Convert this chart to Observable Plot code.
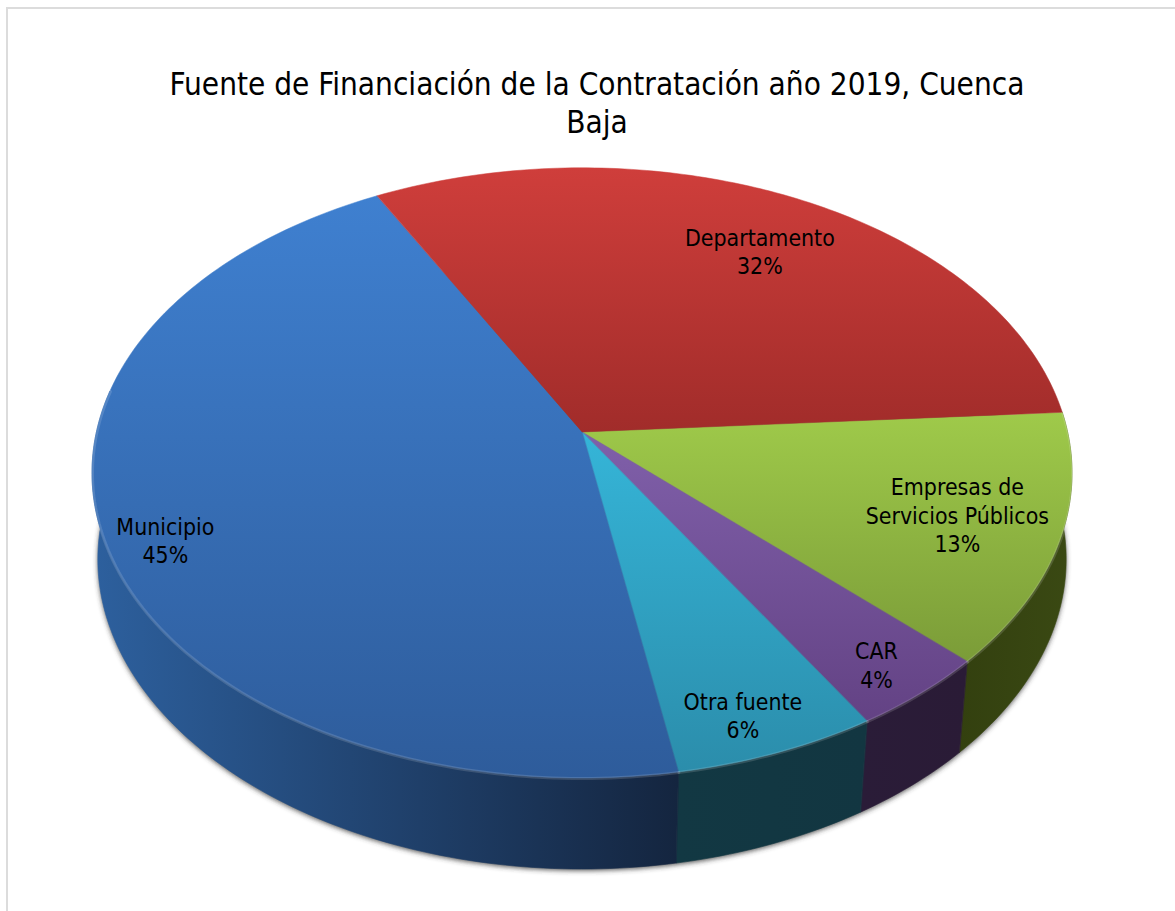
<!DOCTYPE html>
<html lang="es">
<head>
<meta charset="utf-8">
<script src="https://cdn.jsdelivr.net/npm/d3@7"></script>
<script src="https://cdn.jsdelivr.net/npm/@observablehq/plot@0.6"></script>
<style>
  html, body { margin: 0; padding: 0; background: #fff; width: 1175px; height: 911px; overflow: hidden; }
  #frame { position: absolute; left: 6px; top: 7px; width: 1169px; height: 904px; box-sizing: border-box;
           border-left: 2px solid #dcdcdc; border-top: 2px solid #dcdcdc; }
  #title { position: absolute; left: 97px; top: 65px; width: 1000px; text-align: center; color: #000;
           font: 31.25px/38px "DejaVu Sans Condensed", "DejaVu Sans", sans-serif; white-space: nowrap; }
  #chart { position: absolute; left: 0; top: 150px; }
  #chart svg { display: block; background: transparent; }
</style>
</head>
<body>
<div id="frame"></div>
<div id="title">Fuente de Financiación de la Contratación año 2019, Cuenca<br>Baja</div>
<div id="chart"></div>
<script>
// Data, clockwise from the first slice (shares; labels show them rounded)
const categories = ["Empresas de\nServicios Públicos", "CAR", "Otra fuente", "Municipio", "Departamento"];
const shares = [13.28, 4.08, 5.94, 44.94, 31.76];

// Colours
const topLight = ["#9fca4a", "#8060aa", "#35b5d8", "#3f80d0", "#cf3e3b"];
const topDark  = ["#7b9c38", "#634284", "#2b8dab", "#2e5c9b", "#a12c2a"];
const wallLeft  = ["#33400f", "#2a1c38", "#123843", "#2d609e", null];
const wallRight = ["#3a4913", "#2a1b36", "#123641", "#14253f", null];

// Layout of the tilted pie
const firstAngle = 86.2;         // degrees clockwise from the back
const tilt = 0.134;              // perspective strength
const radiusX = 485.6, radiusY = 299.6;
const centerX = 582, centerY = 432 - 150;
const depth = 0.304;
const labelRadius = [0.79, 0.89, 0.887, 0.888, 0.77];
const labelTurn = [-0.6, 0.6, 1.3, -3.6, 2.05];
const frontFrom = 82, frontTo = 278;

const rad = d => d * Math.PI / 180;
function project(angle, r = 1, base = false, drop = 0) {
  const u = r * Math.sin(rad(angle)), v = r * Math.cos(rad(angle));
  const w = 1 + tilt * v;
  const k = base ? 0.99 + 0.015 * v : 1;
  return {x: k * u / w, y: v / w - (base ? depth + drop : 0)};
}
function arc(a0, a1, base = false, drop = 0) {
  const n = Math.max(2, Math.ceil(Math.abs(a1 - a0)));
  return d3.range(n + 1).map(i => project(a0 + (a1 - a0) * i / n, 1, base, drop));
}
// a band between two outlines of the same length
function band(outer, inner) {
  return outer.map((p, i) => ({x1: p.x, y1: p.y, x2: inner[i].x, y2: inner[i].y}));
}
// a fan from a point to an outline
function fan(outer, hub) {
  return outer.map(p => ({x1: p.x, y1: p.y, x2: hub.x, y2: hub.y}));
}
const areaOf = (rows, opts) => Plot.area(rows, {x1: "x1", y1: "y1", x2: "x2", y2: "y2", ...opts});

const total = d3.sum(shares);
let running = firstAngle;
const slices = categories.map((name, i) => {
  const a0 = running, a1 = running + shares[i] / total * 360;
  running = a1;
  return {name, share: shares[i], a0, a1, i};
});

const marks = [];

// soft shadow under the base
marks.push(areaOf(fan(arc(0, 360, true, 0.006), {x: 0, y: -depth}), {fill: "#3a3a3a", fillOpacity: 0.8}));

// side walls, drawn only over the visible front
for (const s of slices) {
  const a0 = Math.max(s.a0, frontFrom), a1 = Math.min(s.a1, frontTo);
  if (a1 <= a0) continue;
  marks.push(areaOf(band(arc(a0, a1), arc(a0, a1, true)), {fill: `url(#wall${s.i})`, stroke: `url(#wall${s.i})`, strokeWidth: 0.6}));
}

// top faces
for (const s of slices) {
  marks.push(areaOf(fan(arc(s.a0, s.a1), project(0, 0)), {fill: `url(#top${s.i})`, stroke: `url(#top${s.i})`, strokeWidth: 0.5}));
}

// bevel along the front rim
for (const s of slices) {
  const a0 = Math.max(s.a0, frontFrom), a1 = Math.min(s.a1, frontTo);
  if (a1 <= a0) continue;
  marks.push(Plot.line(arc(a0, a1), {x: "x", y: "y", stroke: "#ffffff", strokeOpacity: 0.14, strokeWidth: 3}));
}

// labels
const labels = slices.map(s => {
  const p = project((s.a0 + s.a1) / 2 + labelTurn[s.i], labelRadius[s.i]);
  return {x: p.x, y: p.y, text: `${s.name}\n${Math.round(s.share)}%`};
});
marks.push(Plot.text(labels, {
  x: "x", y: "y", text: "text", fill: "#000", fontSize: 22.9, lineHeight: 1.24,
  fontFamily: '"DejaVu Sans Condensed", "DejaVu Sans", sans-serif'
}));

const width = 1175, height = 761;
const svg = Plot.plot({
  width, height, margin: 0,
  x: {axis: null, domain: [-centerX / radiusX, (width - centerX) / radiusX], range: [0, width]},
  y: {axis: null, domain: [centerY / radiusY, (centerY - height) / radiusY], range: [0, height]},
  marks
});

// gradients and shadow blur
const defs = d3.select(svg).insert("defs", ":first-child");
slices.forEach(s => {
  const t = defs.append("linearGradient").attr("id", `top${s.i}`).attr("x1", 0).attr("y1", 0).attr("x2", 0).attr("y2", 1);
  t.append("stop").attr("offset", 0).attr("stop-color", topLight[s.i]);
  t.append("stop").attr("offset", 1).attr("stop-color", topDark[s.i]);
  if (wallLeft[s.i]) {
    const g = defs.append("linearGradient").attr("id", `wall${s.i}`).attr("x1", 0).attr("y1", 0).attr("x2", 1).attr("y2", 0);
    g.append("stop").attr("offset", 0).attr("stop-color", wallLeft[s.i]);
    g.append("stop").attr("offset", 1).attr("stop-color", wallRight[s.i]);
  }
});
const blur = defs.append("filter").attr("id", "blur").attr("x", "-5%").attr("y", "-5%").attr("width", "110%").attr("height", "110%");
blur.append("feGaussianBlur").attr("stdDeviation", 2.5);
d3.select(svg).select('g[aria-label="area"]').attr("filter", "url(#blur)");

document.getElementById("chart").appendChild(svg);
</script>
</body>
</html>
